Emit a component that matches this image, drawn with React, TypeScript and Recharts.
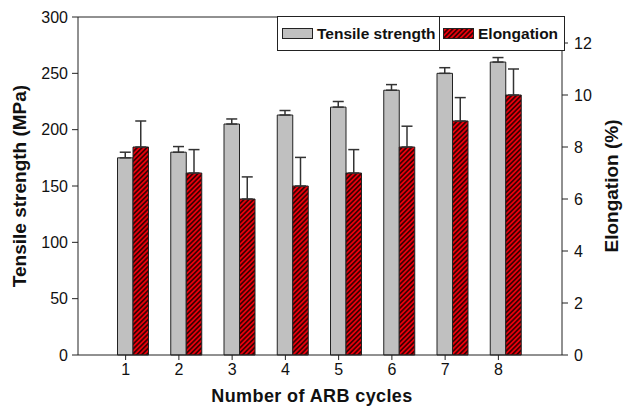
import React from 'react';
import { BarChart, Bar, XAxis, YAxis, ErrorBar, ReferenceLine, Legend, Label } from 'recharts';

const cycles = ['1', '2', '3', '4', '5', '6', '7', '8'];
const tensile = [175, 180, 205, 213, 220, 235, 250, 260];
const tensileErr = [5, 5, 4.5, 4, 5, 5, 5, 4];
const elongation = [8, 7, 6, 6.5, 7, 8, 9, 10];
const elongationErr = [1, 0.9, 0.85, 1.1, 0.9, 0.8, 0.9, 1];
const leftTicks = [0, 50, 100, 150, 200, 250, 300];
const rightTicks = [0, 2, 4, 6, 8, 10, 12];

const data = cycles.map((c, i) => ({
  cycle: c,
  blank: 0,
  tensile: tensile[i],
  tensileErr: [0, tensileErr[i]],
  elongation: elongation[i],
  elongationErr: [0, elongationErr[i]],
}));

const FONT = 'Arial, "Liberation Sans", sans-serif';
const tickStyle = { fontSize: 16, fill: '#111', fontFamily: FONT };
const titleStyle = { textAnchor: 'middle' as const, fontSize: 19, fontWeight: 'bold' as const, fill: '#111', fontFamily: FONT };

const LegendBox = () => (
  <div
    style={{
      width: 288,
      height: 35,
      boxSizing: 'border-box',
      border: '1px solid #222',
      background: '#fff',
      display: 'flex',
      fontFamily: FONT,
      fontWeight: 'bold',
      fontSize: 15.5,
      color: '#111',
      whiteSpace: 'nowrap',
    }}
  >
    <div style={{ display: 'flex', alignItems: 'center', width: 162, flexShrink: 0, borderRight: '1px solid #222', paddingLeft: 4, boxSizing: 'border-box' }}>
      <svg width={31} height={11} style={{ marginRight: 4, flexShrink: 0 }}>
        <rect x={0.5} y={0.5} width={30} height={10} fill="#c0c0c0" stroke="#222" />
      </svg>
      <span>Tensile strength</span>
    </div>
    <div style={{ display: 'flex', alignItems: 'center', paddingLeft: 3 }}>
      <svg width={31} height={11} style={{ marginRight: 4, flexShrink: 0 }}>
        <rect x={0.5} y={0.5} width={30} height={10} fill="url(#hatch)" stroke="#222" />
      </svg>
      <span>Elongation</span>
    </div>
  </div>
);

export default function App() {
  return (
    <div style={{ width: 624, height: 407, background: '#fff' }}>
      <style>{`body{margin:0;background:#fff}`}</style>
      <svg width={0} height={0} style={{ position: 'absolute' }}>
        <defs>
          <pattern id="hatch" patternUnits="userSpaceOnUse" width={3.4} height={3.4} patternTransform="rotate(45)">
            <rect x={0} y={0} width={3.4} height={3.4} fill="#e8000b" />
            <line x1={0.85} y1={0} x2={0.85} y2={3.4} stroke="#1a0000" strokeWidth={1.4} />
          </pattern>
        </defs>
      </svg>
      <BarChart
        width={624}
        height={407}
        data={data}
        margin={{ top: 17, right: 0, bottom: 0, left: 0 }}
        barSize={15.5}
        barGap={0}
      >
        <XAxis
          dataKey="cycle"
          height={52}
          padding={{ left: 21, right: 37 }}
          tick={tickStyle}
          tickSize={5}
          tickMargin={4}
          axisLine={{ stroke: '#222' }}
          tickLine={{ stroke: '#222' }}
        >
          <Label
            value="Number of ARB cycles"
            position="insideBottom"
            offset={5}
            dx={-8}
            style={{ ...titleStyle, fontSize: 18, letterSpacing: 0.4 }}
          />
        </XAxis>
        <YAxis
          yAxisId="left"
          width={78}
          domain={[0, 300]}
          ticks={leftTicks}
          interval={0}
          tick={tickStyle}
          tickSize={6}
          tickMargin={4}
          axisLine={{ stroke: '#222' }}
          tickLine={{ stroke: '#222' }}
        >
          <Label value="Tensile strength (MPa)" angle={-90} position="insideLeft" offset={19} style={titleStyle} />
        </YAxis>
        <YAxis
          yAxisId="right"
          orientation="right"
          width={62}
          domain={[0, 13]}
          ticks={rightTicks}
          interval={0}
          tick={tickStyle}
          tickSize={6}
          tickMargin={6}
          axisLine={{ stroke: '#222' }}
          tickLine={{ stroke: '#222' }}
        >
          <Label value="Elongation (%)" angle={-90} position="insideRight" offset={13} style={titleStyle} />
        </YAxis>
        <ReferenceLine yAxisId="left" y={300} stroke="#222" ifOverflow="extendDomain" />
        <Bar yAxisId="left" dataKey="blank" fill="none" isAnimationActive={false} legendType="none" />
        <Bar yAxisId="left" dataKey="tensile" fill="#c0c0c0" stroke="#222" strokeWidth={1} isAnimationActive={false}>
          <ErrorBar dataKey="tensileErr" width={5.5} stroke="#333" strokeWidth={1.5} direction="y" />
        </Bar>
        <Bar yAxisId="right" dataKey="elongation" fill="url(#hatch)" stroke="#222" strokeWidth={1} isAnimationActive={false}>
          <ErrorBar dataKey="elongationErr" width={5.5} stroke="#333" strokeWidth={1.5} direction="y" />
        </Bar>
        <Legend
          layout="vertical"
          align="center"
          verticalAlign="middle"
          wrapperStyle={{ position: 'absolute', top: 16, left: 277, width: 288, height: 35 }}
          content={() => <LegendBox />}
        />
      </BarChart>
    </div>
  );
}
